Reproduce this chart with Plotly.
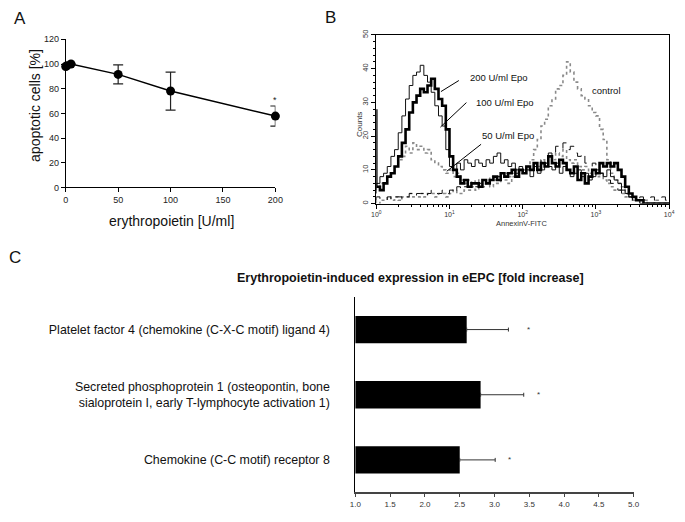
import plotly.graph_objects as go

W, H = 685, 522

# ---------------- Panel A data ----------------
dose_u_ml = [0, 1, 5, 50, 100, 200]
apoptotic_pct = [98, 98.5, 100, 91.6, 78.1, 57.8]
apoptotic_err = [None, None, None, 7.7, 15.4, 8.2]
sig_dose = 200
sig_level = 71

# ---------------- Panel B data (flow histograms) ----------------
log_channel = [0.00, 0.05, 0.10, 0.15, 0.20, 0.25, 0.30, 0.35, 0.40, 0.45,
               0.50, 0.55, 0.60, 0.65, 0.70, 0.75, 0.80, 0.85, 0.90, 0.95,
               1.00, 1.05, 1.10, 1.15, 1.20, 1.25, 1.30, 1.35, 1.40, 1.45,
               1.50, 1.55, 1.60, 1.65, 1.70, 1.75, 1.80, 1.85, 1.90, 1.95,
               2.00, 2.05, 2.10, 2.15, 2.20, 2.25, 2.30, 2.35, 2.40, 2.45,
               2.50, 2.55, 2.60, 2.65, 2.70, 2.75, 2.80, 2.85, 2.90, 2.95,
               3.00, 3.05, 3.10, 3.15, 3.20, 3.25, 3.30, 3.35, 3.40, 3.45,
               3.50, 3.55, 3.60, 3.65, 3.70, 3.75, 3.80, 3.85, 3.90, 3.95,
               4.00]

counts_200 = [28, 5, 4, 6, 8, 9, 11, 14, 18, 22,
              27, 30, 32, 34, 33, 35, 37, 34, 31, 29,
              22, 14, 10, 8, 6, 7, 5, 6, 6, 5,
              7, 6, 7, 8, 7, 9, 8, 9, 10, 8,
              10, 9, 11, 10, 12, 10, 12, 11, 14, 12,
              11, 13, 12, 10, 9, 11, 7, 9, 6, 8,
              10, 9, 12, 11, 12, 11, 12, 10, 8, 5,
              3, 2, 1, 1, 0, 0, 0, 0, 0, 0,
              0]
counts_100 = [3, 6, 8, 9, 11, 14, 16, 21, 26, 31,
              35, 38, 39, 41, 38, 36, 33, 29, 26, 23,
              16, 11, 10, 12, 10, 13, 12, 11, 13, 12,
              11, 13, 12, 14, 15, 12, 13, 11, 12, 10,
              11, 9, 10, 8, 11, 9, 10, 12, 11, 10,
              12, 9, 11, 10, 8, 9, 10, 8, 9, 7,
              8, 10, 9, 8, 10, 8, 7, 6, 4, 3,
              2, 2, 1, 0, 0, 0, 0, 0, 0, 0,
              0]
counts_50 = [4, 5, 6, 6, 8, 9, 11, 13, 14, 17,
             15, 18, 16, 17, 15, 16, 13, 12, 11, 10,
             9, 10, 8, 9, 7, 6, 7, 6, 7, 6,
             7, 7, 8, 7, 8, 8, 9, 8, 9, 10,
             9, 10, 11, 10, 12, 11, 13, 12, 14, 13,
             15, 14, 16, 13, 12, 13, 11, 10, 11, 9,
             10, 8, 9, 7, 6, 5, 4, 4, 3, 2,
             2, 1, 1, 0, 1, 0, 0, 1, 0, 0,
             0]
counts_control = [1, 0, 1, 1, 2, 1, 2, 1, 2, 2,
                  3, 2, 2, 3, 2, 3, 3, 2, 3, 3,
                  2, 3, 4, 3, 3, 4, 4, 5, 4, 5,
                  5, 6, 5, 6, 6, 7, 7, 6, 8, 8,
                  9, 10, 11, 13, 16, 19, 23, 25, 29, 31,
                  34, 35, 38, 42, 39, 36, 34, 32, 31, 29,
                  27, 26, 22, 19, 13, 9, 7, 6, 5, 3,
                  2, 1, 1, 0, 1, 0, 0, 0, 0, 0,
                  0]
counts_other = [1, 2, 1, 1, 2, 1, 2, 2, 1, 2,
                3, 2, 3, 3, 2, 3, 4, 3, 3, 4,
                3, 4, 3, 5, 4, 5, 5, 6, 5, 6,
                7, 6, 7, 7, 8, 7, 8, 9, 8, 9,
                10, 9, 11, 10, 12, 13, 12, 14, 15, 14,
                17, 16, 18, 16, 17, 15, 14, 15, 12, 11,
                12, 10, 9, 8, 7, 6, 5, 4, 3, 3,
                2, 1, 1, 2, 1, 1, 2, 1, 1, 2,
                1]

# ---------------- Panel C data ----------------
genes = ["Platelet factor 4 (chemokine (C-X-C motif) ligand 4)",
         "Secreted phosphoprotein 1 (osteopontin, bone<br>sialoprotein I, early T-lymphocyte activation 1)",
         "Chemokine (C-C motif) receptor 8"]
fold_increase = [2.6, 2.8, 2.5]
fold_err = [0.6, 0.62, 0.51]
star_pos = [3.49, 3.63, 3.22]
c_ticks = [1.0, 1.5, 2.0, 2.5, 3.0, 3.5, 4.0, 4.5, 5.0]

ARIAL = "Liberation Sans, Arial, sans-serif"


def px(x):
    return x / W


def py(y):
    return 1 - y / H


fig = go.Figure()

# Panel A
fig.add_trace(go.Scatter(
    x=dose_u_ml, y=apoptotic_pct, mode="lines+markers",
    line=dict(color="black", width=1.5),
    marker=dict(color="black", size=9),
    error_y=dict(type="data", array=apoptotic_err, visible=True,
                 color="#222", thickness=1.2, width=5),
    cliponaxis=False, xaxis="x", yaxis="y", showlegend=False))

# Panel B
chan = [10 ** e for e in log_channel]
hist_styles = [
    (counts_control, dict(color="#8a8a8a", width=1.6, dash="dot", shape="vh")),
    (counts_50, dict(color="#8a8a8a", width=1.6, dash="dot", shape="vh")),
    (counts_other, dict(color="#111", width=1, dash="dash", shape="vh")),
    (counts_100, dict(color="#111", width=1, shape="vh")),
    (counts_200, dict(color="black", width=2.6, shape="vh")),
]
for vals, ln in hist_styles:
    fig.add_trace(go.Scatter(x=chan, y=vals, mode="lines", line=ln,
                             xaxis="x2", yaxis="y2", showlegend=False,
                             hoverinfo="skip"))

# Panel C
fig.add_trace(go.Bar(
    y=genes, x=fold_increase, orientation="h", width=0.42,
    marker=dict(color="black", line=dict(width=0)),
    error_x=dict(type="data", array=fold_err, arrayminus=[0, 0, 0],
                 visible=True, color="#333", thickness=1, width=2),
    xaxis="x3", yaxis="y3", showlegend=False))

axis_common = dict(showgrid=False, zeroline=False, showline=True,
                   linecolor="black", linewidth=1, ticks="outside",
                   tickcolor="black")

fig.update_layout(
    width=W, height=H, margin=dict(l=0, r=0, t=0, b=0),
    paper_bgcolor="white", plot_bgcolor="white",
    font=dict(family=ARIAL, color="black"),
    showlegend=False,
    xaxis=dict(domain=[px(61), px(275)], range=[0, 200],
               tickvals=[0, 50, 100, 150, 200], ticklen=4,
               tickfont=dict(size=9, color="#222"), anchor="y", **axis_common),
    yaxis=dict(domain=[py(186), py(35)], range=[0, 120], dtick=20, ticklen=4,
               tickfont=dict(size=9, color="#222"), anchor="x", **axis_common),
    xaxis2=dict(type="log", domain=[px(378), px(677)], range=[0, 4.001],
                tickvals=[1, 10, 100, 1000, 10000],
                ticktext=["10<sup>0</sup>", "10<sup>1</sup>", "10<sup>2</sup>",
                          "10<sup>3</sup>", "10<sup>4</sup>"],
                ticklen=4, mirror=True, ticklabeloverflow="allow",
                minor=dict(ticks="outside", ticklen=2, tickcolor="black",
                           dtick="D1"),
                tickfont=dict(size=7, color="#333"), anchor="y2",
                **axis_common),
    yaxis2=dict(domain=[py(202.5), py(30.5)], range=[0, 50], dtick=10,
                tickangle=-90, ticklen=4, mirror=True,
                minor=dict(ticks="outside", ticklen=2, tickcolor="black",
                           dtick=2),
                tickfont=dict(size=7.5, color="#333"), anchor="x2",
                **axis_common),
    xaxis3=dict(domain=[px(356.7), px(640.7)], range=[1, 5],
                tickvals=c_ticks, tickformat=".1f", ticklen=3,
                tickfont=dict(size=8, color="#333"), anchor="y3",
                showgrid=False, zeroline=False, showline=True,
                linecolor="#444", linewidth=1.5, ticks="outside",
                tickcolor="#444"),
    yaxis3=dict(domain=[py(497), py(297.7)], type="category",
                categoryorder="array", categoryarray=genes,
                range=[2.5, -0.5], ticks="", ticklabelstandoff=22,
                showgrid=False, zeroline=False, showline=True,
                linecolor="black", linewidth=1.2,
                tickfont=dict(family=ARIAL, size=12.4, color="#111"),
                anchor="x3"),
)

ann = []
# panel letters
for letter, x, y in [("A", 14, 13.5), ("B", 331, 12.5), ("C", 9, 257)]:
    ann.append(dict(text=letter, x=px(x), y=py(y), xref="paper", yref="paper",
                    showarrow=False, font=dict(size=17, color="#111"),
                    xanchor="center", yanchor="middle"))
# Panel A titles
ann.append(dict(text="apoptotic cells [%]", x=px(29), y=py(102.5),
                xref="paper", yref="paper", showarrow=False, textangle=-90,
                font=dict(size=14, color="#111"), xanchor="center",
                yanchor="middle"))
ann.append(dict(text="erythropoietin [U/ml]", x=px(168.5), y=py(220),
                xref="paper", yref="paper", showarrow=False,
                font=dict(size=14, color="#111"), xanchor="center",
                yanchor="middle"))
ann.append(dict(text="*", x=sig_dose, y=sig_level, xref="x", yref="y",
                showarrow=False, font=dict(size=9, color="#222"),
                yanchor="middle"))
# Panel B texts
ann.append(dict(text="Counts", x=px(361), y=py(121.7), xref="paper",
                yref="paper", showarrow=False, textangle=-90,
                font=dict(size=8, color="#333"), xanchor="center",
                yanchor="middle"))
ann.append(dict(text="AnnexinV-FITC", x=px(526.7), y=py(223), xref="paper",
                yref="paper", showarrow=False, font=dict(size=7.5, color="#333"),
                xanchor="center", yanchor="middle"))
for txt, x, y in [("200 U/ml Epo", 503.7, 74), ("100 U/ml Epo", 509.7, 99.3),
                  ("50 U/ml Epo", 512, 133.3), ("control", 612.7, 86.7)]:
    ann.append(dict(text=txt, x=px(x), y=py(y), xref="paper", yref="paper",
                    showarrow=False, font=dict(size=9.5, color="#111"),
                    xanchor="center", yanchor="middle"))
# Panel C title + stars
ann.append(dict(text="<b>Erythropoietin-induced expression in eEPC [fold increase]</b>",
                x=px(413), y=py(278), xref="paper", yref="paper",
                showarrow=False, font=dict(family=ARIAL, size=12.5, color="#111"),
                xanchor="center", yanchor="middle"))
for g, sx in zip(genes, star_pos):
    ann.append(dict(text="*", x=sx, y=g, xref="x3", yref="y3", showarrow=False,
                    font=dict(size=8, color="#333"), xanchor="center",
                    yanchor="middle"))
fig.update_layout(annotations=ann)

shapes = []
for (x0, y0, x1, y1) in [(462.3, 77, 444, 88.3), (470, 99.5, 443.5, 124.5),
                         (485, 142, 450, 169.5)]:
    shapes.append(dict(type="line", xref="paper", yref="paper",
                       x0=px(x0), y0=py(y0), x1=px(x1), y1=py(y1),
                       line=dict(color="black", width=1)))
fig.update_layout(shapes=shapes)

fig.write_html(
    "out.html",
    config={"displayModeBar": False},
    post_script="document.body.style.margin='0px';"
                "document.body.style.overflow='hidden';")
